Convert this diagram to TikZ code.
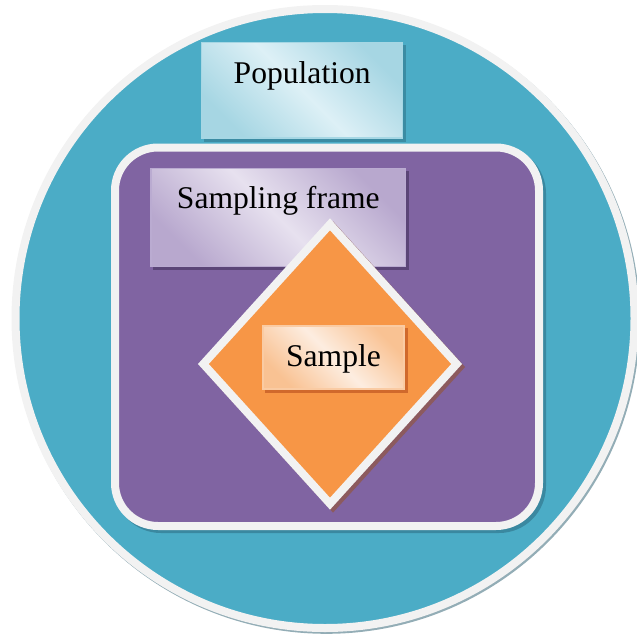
\documentclass[tikz,border=0pt]{standalone}
\usepackage{fontspec}
\setmainfont{Liberation Serif}
\usetikzlibrary{shapes.geometric}
\definecolor{tealbg}{HTML}{4BACC6}
\definecolor{purplebg}{HTML}{8064A2}
\definecolor{orangebg}{HTML}{F79646}
\definecolor{ringwhite}{HTML}{F2F2F2}
\definecolor{circshadow}{HTML}{93ADB6}
\definecolor{rectshadow}{HTML}{3A88A0}
\definecolor{diashadow}{HTML}{8C5A5E}
\definecolor{poplight}{HTML}{DDF0F6}
\definecolor{popdark}{HTML}{A6D6E3}
\definecolor{popborder}{HTML}{A6D7E4}
\definecolor{popshadow}{HTML}{3B8CA3}
\definecolor{sflight}{HTML}{E7E1EF}
\definecolor{sfdark}{HTML}{B8A8CE}
\definecolor{sfborder}{HTML}{BAABD1}
\definecolor{sfshadow}{HTML}{5B4577}
\definecolor{smlight}{HTML}{FDEDE0}
\definecolor{smdark}{HTML}{F9C293}
\definecolor{smborder}{HTML}{FACBA3}
\definecolor{smshadow}{HTML}{D0692C}
\tikzset{
  sh/.style={preaction={fill=#1, draw=#1, transform canvas={xshift=3pt, yshift=-3pt}}},
  thinsh/.style={preaction={fill=#1, draw=#1, transform canvas={xshift=1.5pt, yshift=-1.8pt}}},
  area/.style={draw=ringwhite, line width=8pt, inner sep=0pt},
  lbl/.style n args={4}{rectangle, inner sep=0pt, line width=1.2pt,
    font=\fontsize{31.6pt}{38pt}\selectfont, text=black, anchor=base,
    draw=#3, sh=#4, shading=axis, top color=#2, bottom color=#2, middle color=#1,
    shading angle=135}
}
\begin{document}
\begin{tikzpicture}[x=1pt,y=-1pt]
\useasboundingbox (0,0) rectangle (637,637);
\clip (0,0) rectangle (637,637);
% population area
\node[area, circle, minimum size=619pt, fill=tealbg, thinsh=circshadow] (popArea) at (325,318.5) {};
% sampling frame area
\node[area, rectangle, rounded corners=43pt, minimum width=424pt, minimum height=378.5pt,
      fill=purplebg, sh=rectshadow] (frameArea) at (327,336.75) {};
% labels
\node[lbl={poplight}{popdark}{popborder}{popshadow}, text height=40.3pt, text depth=55pt,
      minimum width=201pt] (pop) at (302.2,83) {Population};
\node[lbl={sflight}{sfdark}{sfborder}{sfshadow}, text height=40pt, text depth=58pt,
      minimum width=254.7pt] (sf) at (278.3,208.5) {Sampling frame};
% sample area
\node[area, diamond, minimum width=256.6pt, minimum height=282.7pt,
      fill=orangebg, sh=diashadow] (sampleArea) at (330,364) {};
\node[lbl={smlight}{smdark}{smborder}{smshadow}, text height=40.7pt, text depth=22.3pt,
      minimum width=141pt] (sm) at (333.5,366.7) {Sample};
\end{tikzpicture}
\end{document}
